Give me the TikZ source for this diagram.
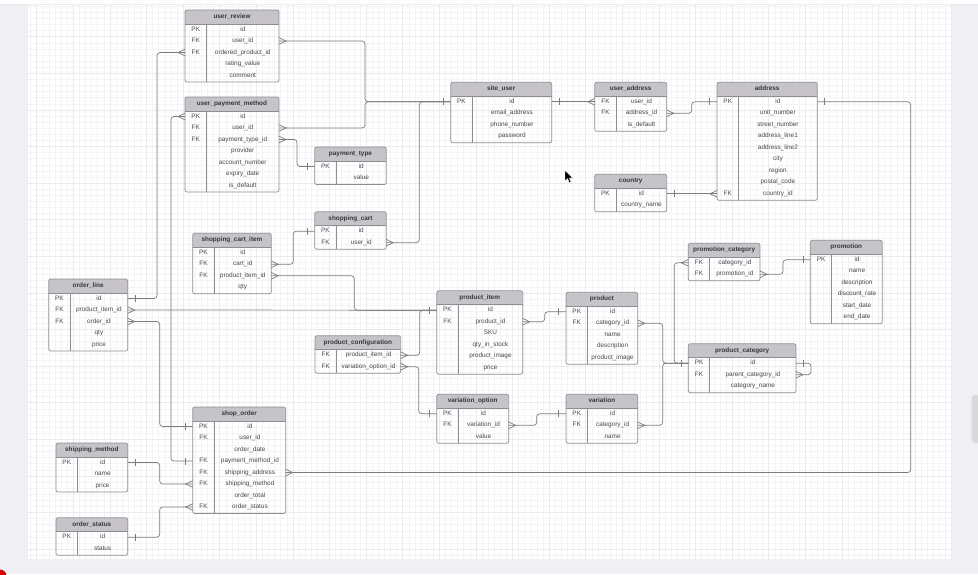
\documentclass[tikz,border=0pt]{standalone}
\usepackage{fontspec}
\setmainfont{Liberation Sans}
\usepackage{tikz}
\usetikzlibrary{arrows.meta}

\definecolor{hdrgray}{HTML}{C6C4C9}
\definecolor{edgegray}{HTML}{8E8D93}
\definecolor{ink}{HTML}{48484D}
\definecolor{linkgray}{HTML}{7C7B80}
\definecolor{gridminor}{HTML}{F4F4F6}
\definecolor{gridmajor}{HTML}{EBEBEF}
\definecolor{sidegray}{HTML}{F0EFF4}

% crow's foot ends
\pgfdeclarearrow{
  name = Many,
  setup code = {
    \pgfarrowssettipend{0pt}
    \pgfarrowssetlineend{0pt}
    \pgfarrowssetbackend{-7pt}
  },
  drawing code = {
    \pgfpathmoveto{\pgfqpoint{0pt}{3.3pt}}
    \pgfpathlineto{\pgfqpoint{-7pt}{0pt}}
    \pgfpathlineto{\pgfqpoint{0pt}{-3.3pt}}
    \pgfusepathqstroke
  }
}
\pgfdeclarearrow{
  name = One,
  setup code = {
    \pgfarrowssettipend{0pt}
    \pgfarrowssetlineend{0pt}
    \pgfarrowssetbackend{-8pt}
  },
  drawing code = {
    \pgfpathmoveto{\pgfqpoint{-7.3pt}{3.5pt}}
    \pgfpathlineto{\pgfqpoint{-7.3pt}{-3.5pt}}
    \pgfusepathqstroke
  }
}

% name, x, y, width, rows, title, key/field list
\newcommand{\dbtable}[7]{%
  \begin{scope}
    \clip[rounded corners=2pt] (#2,#3) rectangle ++(#4,{14.5+11.5*#5});
    \fill[hdrgray] (#2,#3) rectangle ++(#4,14);
  \end{scope}
  \draw[tbl] (#2,{#3+14}) -- ++(#4,0);
  \draw[tbl] ({#2+21.5},{#3+14}) -- ({#2+21.5},{#3+14.5+11.5*#5});
  \draw[tbl, rounded corners=2pt] (#2,#3) rectangle ++(#4,{14.5+11.5*#5});
  \node[title] (#1) at ({#2+#4/2},{#3+7}) {#6};
  \foreach \k/\f [count=\i] in {#7} {
    \node[key] (#1-\i-k) at ({#2+10.75},{#3+8+11.5*\i}) {\k};
    \node[field] (#1-\i) at ({#2+21.5+(#4-21.5)/2},{#3+8+11.5*\i}) {\f};
    \coordinate (#1-\i-w) at (#2,{#3+8+11.5*\i});
    \coordinate (#1-\i-e) at ({#2+#4},{#3+8+11.5*\i});
  }
}

\begin{document}
\begin{tikzpicture}[
    x=1pt, y=-1pt,
    tbl/.style={draw=edgegray, line width=0.7pt},
    title/.style={font=\fontsize{6.4}{7}\selectfont\bfseries, text=ink!75!black,
                  inner sep=0pt, text height=4.5pt, text depth=1.4pt},
    field/.style={text=ink, inner sep=0pt, text height=4.5pt, text depth=1.4pt},
    key/.style={field},
    link/.style={draw=linkgray, line width=0.7pt, rounded corners=3pt},
    every node/.style={font=\fontsize{6.4}{7}\selectfont}
  ]
  \useasboundingbox (0,0) rectangle (978,574);

  % canvas
  \fill[sidegray] (0,0) rectangle (978,574);
  \fill[white] (0,0) rectangle (978,3.5);
  \fill[white] (27.5,4) rectangle (951.7,559);
  \draw[gridminor, line width=0.3pt, step=6.1pt] (27.5pt,-559pt) grid (951.7pt,-4pt);
  \draw[gridmajor, line width=0.35pt, step=36.6pt] (27.5pt,-559pt) grid (951.7pt,-4pt);
  \draw[gridmajor] (0,3.7) -- (978,3.7);
  \fill[gray!30, rounded corners=3pt] (971.7,395) rectangle (984,443);
  \fill[red!85!black] (0,576) circle (6.5);

  % tables
  \dbtable{review}{185}{10}{94}{5}{user\_review}
    {PK/id, FK/user\_id, FK/ordered\_product\_id, /rating\_value, /comment}
  \dbtable{paymethod}{185}{97}{94}{7}{user\_payment\_method}
    {PK/id, FK/user\_id, FK/payment\_type\_id, /provider, /account\_number, /expiry\_date, /is\_default}
  \dbtable{paytype}{314.7}{147}{71.6}{2}{payment\_type}
    {PK/id, /value}
  \dbtable{cart}{314.7}{211.7}{71.6}{2}{shopping\_cart}
    {PK/id, FK/user\_id}
  \dbtable{cartitem}{192.7}{233.3}{78.6}{4}{shopping\_cart\_item}
    {PK/id, FK/cart\_id, FK/product\_item\_id, /qty}
  \dbtable{orderline}{48.7}{279}{79}{5}{order\_line}
    {PK/id, FK/product\_item\_id, FK/order\_id, /qty, /price}
  \dbtable{order}{192.7}{407}{93}{8}{shop\_order}
    {PK/id, FK/user\_id, /order\_date, FK/payment\_method\_id, FK/shipping\_address, FK/shipping\_method, /order\_total, FK/order\_status}
  \dbtable{shipmethod}{56}{443}{71.7}{3}{shipping\_method}
    {PK/id, /name, /price}
  \dbtable{status}{56}{517.7}{71.7}{2}{order\_status}
    {PK/id, /status}
  \dbtable{user}{450.7}{82.3}{101}{4}{site\_user}
    {PK/id, /email\_address, /phone\_number, /password}
  \dbtable{useraddr}{594.7}{82.3}{72}{3}{user\_address}
    {FK/user\_id, FK/address\_id, /is\_default}
  \dbtable{address}{717}{82.3}{100.3}{9}{address}
    {PK/id, /unit\_number, /street\_number, /address\_line1, /address\_line2, /city, /region, /postal\_code, FK/country\_id}
  \dbtable{country}{594.7}{174.3}{72}{2}{country}
    {PK/id, /country\_name}
  \dbtable{promocat}{688.3}{243.3}{71.7}{2}{promotion\_category}
    {FK/category\_id, FK/promotion\_id}
  \dbtable{promo}{810.3}{240.3}{72}{6}{promotion}
    {PK/id, /name, /description, /discount\_rate, /start\_date, /end\_date}
  \dbtable{category}{688.3}{343.7}{107.7}{3}{product\_category}
    {PK/id, FK/parent\_category\_id, /category\_name}
  \dbtable{item}{436.7}{290.7}{86}{6}{product\_item}
    {PK/id, FK/product\_id, /SKU, /qty\_in\_stock, /product\_image, /price}
  \dbtable{product}{566}{292.3}{71.7}{5}{product}
    {PK/id, FK/category\_id, /name, /description, /product\_image}
  \dbtable{config}{315}{335.7}{85.7}{2}{product\_configuration}
    {FK/product\_item\_id, FK/variation\_option\_id}
  \dbtable{option}{436.7}{394.3}{72}{3}{variation\_option}
    {PK/id, FK/variation\_id, /value}
  \dbtable{variation}{566}{394.3}{71.7}{3}{variation}
    {PK/id, FK/category\_id, /name}

  % relations
  \draw[link, Many-One] (review-2-e) -- ++(86,0) |- (user-1-w);
  \draw[link, Many-] (paymethod-2-e) -- ++(86,0) |- (user-1-w);
  \draw[link, Many-] (cart-2-e) -- ++(33,0) |- (user-1-w);
  \draw[link, One-Many] (user-1-e) -- (useraddr-1-w);
  \draw[link, Many-One] (useraddr-2-e) -- ++(25,0) |- (address-1-w);
  \draw[link, One-Many] (country-1-e) -- (address-9-w);
  \draw[link, Many-One] (order-5-e) -- ++(625,0) |- (address-1-e);
  \draw[link, Many-One] (review-3-w) -- ++(-28,0) |- (orderline-1-e);
  \draw[link, Many-One] (paymethod-1-w) -- ++(-14,0) |- (order-4-w);
  \draw[link, Many-One] (paymethod-3-e) -- ++(18,0) |- (paytype-1-w);
  \draw[link, Many-One] (cartitem-2-e) -- ++(22,0) |- (cart-1-w);
  \draw[link, Many-One] (cartitem-3-e) -- ++(83,0) |- (item-1-w);
  \draw[link, Many-] (orderline-2-e) -- (item-1-w);
  \draw[link, Many-] (config-1-e) -- ++(19,0) |- (item-1-w);
  \draw[link, Many-One] (config-2-e) -- ++(18,0) |- (option-1-w);
  \draw[link, Many-One] (orderline-3-e) -- ++(32,0) |- (order-1-w);
  \draw[link, One-Many] (shipmethod-1-e) -- ++(32,0) |- (order-6-w);
  \draw[link, One-Many] (status-1-e) -- ++(32,0) |- (order-8-w);
  \draw[link, Many-One] (item-2-e) -- ++(22,0) |- (product-1-w);
  \draw[link, Many-One] (product-2-e) -- ++(25,0) |- (category-1-w);
  \draw[link, Many-] (variation-2-e) -- ++(25,0) |- (category-1-w);
  \draw[link, Many-] (promocat-1-w) -- ++(-14,0) |- (category-1-w);
  \draw[link, Many-One] (promocat-2-e) -- ++(23,0) |- (promo-1-w);
  \draw[link, Many-One] (option-2-e) -- ++(28,0) |- (variation-1-w);
  \draw[link, One-Many] (category-1-e) -- ++(15,0) |- (category-2-e);

  % pointer
  \fill[black, draw=white, line width=0.4pt] (565,170.5) -- (565,181) -- (567.6,178.6)
    -- (569.4,182.8) -- (571,182.1) -- (569.3,178) -- (572.8,178) -- cycle;
\end{tikzpicture}
\end{document}
